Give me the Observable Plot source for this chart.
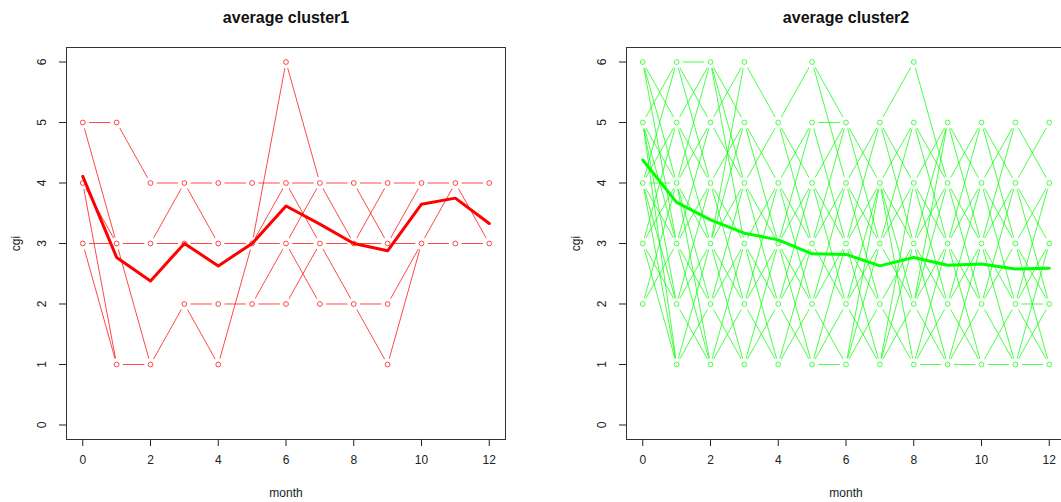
<!DOCTYPE html>
<html><head><meta charset="utf-8">
<script src="https://cdn.jsdelivr.net/npm/d3@7"></script>
<script src="https://cdn.jsdelivr.net/npm/@observablehq/plot@0.6"></script>
<style>
html,body{margin:0;padding:0;background:#fff;overflow:hidden;}
#wrap{position:relative;width:1061px;height:502px;overflow:hidden;background:#fff;}
.panel{position:absolute;top:0;width:530px;height:502px;}
.panel svg{max-width:none !important;width:530px;height:502px;display:block;}
</style></head><body>
<div id="wrap"><div class="panel" id="p1" style="left:0px"></div><div class="panel" id="p2" style="left:560px"></div></div>
<script>
const months = [0,1,2,3,4,5,6,7,8,9,10,11,12];
const xTicks = [0,2,4,6,8,10,12];
const yTicks = [0,1,2,3,4,5,6];
const titles = ["average cluster1", "average cluster2"];

// cluster 1: one row per subject, values for months 0..12
const cluster1Subjects = [
  [5,5,4,4,4,4,4,4,4,4,4,4,4],
  [5,3,1,2,2,2,3,4,3,4,4,4,3],
  [4,1,1,2,2,2,2,3,2,1,3,3,3],
  [4,3,3,4,3,3,4,3,3,3,4,4,3],
  [3,1,1,2,1,3,6,4,4,3,4,4,4],
  [3,3,3,4,3,3,4,4,3,3,4,4,3],
  [4,3,3,3,3,3,3,3,3,3,3,4,3],
  [4,3,3,3,3,3,3,2,2,2,3,3,3]
];
const cluster1Mean = [4.11,2.77,2.38,3.0,2.63,3.0,3.62,3.32,3.0,2.88,3.65,3.75,3.33];

// cluster 2
const cluster2Subjects = [
  [6,5,4,3,4,3,2,3,2,1,2,1,2],
  [6,4,3,4,3,2,3,2,3,2,1,2,3],
  [5,6,6,5,4,3,4,3,4,3,2,3,2],
  [5,3,4,2,3,4,2,1,2,3,2,1,1],
  [5,4,5,6,5,4,3,4,5,4,5,4,5],
  [5,2,3,2,1,2,1,2,1,2,3,2,1],
  [5,4,3,4,3,5,5,4,3,2,3,4,3],
  [4,6,5,4,5,6,5,4,3,4,5,3,4],
  [4,3,2,1,2,1,2,3,2,1,2,1,2],
  [4,5,4,3,2,3,2,1,2,1,1,2,1],
  [4,2,1,2,3,2,3,2,1,2,1,2,1],
  [4,3,4,5,4,3,2,3,4,3,4,3,2],
  [4,5,3,2,3,2,3,2,3,4,3,2,3],
  [3,4,2,3,2,1,2,1,2,3,2,1,2],
  [3,2,3,4,3,4,3,2,1,2,3,2,3],
  [3,1,2,1,2,1,1,2,3,2,1,2,1],
  [2,3,4,3,2,3,4,3,2,3,4,5,4],
  [5,3,2,3,4,2,3,2,3,2,3,2,2],
  [6,4,3,2,1,2,1,2,1,1,2,3,2],
  [5,4,3,6,5,6,4,5,6,4,3,2,3],
  [4,3,5,4,3,2,3,4,3,2,1,1,2],
  [5,1,2,1,2,1,2,1,2,1,2,3,2],
  [4,4,3,4,3,2,1,3,2,5,4,5,4],
  [3,5,6,4,5,4,5,3,4,5,4,3,4],
  [4,2,3,5,4,3,4,2,3,4,2,3,2],
  [5,3,5,4,2,4,2,3,5,3,2,4,3],
  [3,5,4,2,4,5,3,1,3,2,4,2,3],
  [4,6,4,5,3,1,3,5,4,2,3,1,2],
  [5,2,4,3,1,3,4,2,1,3,5,3,1],
  [2,4,1,3,4,2,1,4,2,4,2,4,3],
  [6,3,2,4,5,3,5,3,2,1,3,5,4],
  [4,1,3,1,3,4,2,4,1,3,1,2,4],
  [5,4,2,1,3,1,3,1,4,2,4,2,1],
  [3,2,1,3,1,3,2,3,5,3,2,1,3],
  [4,4,6,3,2,4,3,5,3,1,2,4,2],
  [5,3,1,2,4,2,4,2,3,5,3,1,2]
];
const cluster2Mean = [4.38,3.68,3.39,3.17,3.06,2.83,2.82,2.63,2.77,2.64,2.66,2.58,2.59];

const colors = ["#ff0000", "#00ff00"];

function panel(title, subjects, mean, color) {
  // unique points and unique segments (month to next month) of the subject paths
  const ptMap = new Map();
  const segMap = new Map();
  subjects.forEach(vals => vals.forEach((v, j) => {
    ptMap.set(months[j] + ":" + v, {month: months[j], value: v});
    if (j + 1 < vals.length) {
      const w = vals[j + 1];
      segMap.set(j + ":" + v + ":" + w, {m1: months[j], v1: v, m2: months[j + 1], v2: w});
    }
  }));
  const pts = Array.from(ptMap.values());
  const segs = Array.from(segMap.values());
  const meanPts = mean.map((v, j) => ({month: months[j], value: v}));
  return Plot.plot({
    width: 530, height: 502,
    marginLeft: 66, marginRight: 25, marginTop: 47, marginBottom: 63,
    style: {fontFamily: "'Liberation Sans', Arial, sans-serif", fontSize: "12px", color: "#222", background: "white"},
    x: {domain: [-0.48, 12.48]},
    y: {domain: [-0.24, 6.24]},
    marks: [
      Plot.link(segs, {x1: "m1", y1: "v1", x2: "m2", y2: "v2", stroke: color, strokeWidth: 0.9, strokeOpacity: 0.8}),
      Plot.dot(pts, {x: "month", y: "value", r: 6.3, fill: "white", stroke: "none"}),
      Plot.dot(pts, {x: "month", y: "value", r: 2.4, stroke: color, fill: "none", strokeWidth: 0.9, strokeOpacity: 0.8}),
      Plot.line(meanPts, {x: "month", y: "value", stroke: color, strokeWidth: 3}),
      Plot.frame({stroke: "#333"}),
      Plot.axisX({ticks: xTicks, tickSize: 7, tickPadding: 9, label: null}),
      Plot.axisY({ticks: yTicks, tickSize: 7, tickFormat: () => "", label: null}),
      Plot.text(yTicks, {y: d => d, text: d => String(d), frameAnchor: "left", dx: -24, rotate: -90, textAnchor: "middle", lineAnchor: "middle"}),
      Plot.text([title], {frameAnchor: "top", dy: -30, fontWeight: "bold", fontSize: 16, textAnchor: "middle", lineAnchor: "middle", fill: "#111"}),
      Plot.text(["month"], {frameAnchor: "bottom", dy: 54, textAnchor: "middle", lineAnchor: "middle"}),
      Plot.text(["cgi"], {frameAnchor: "left", dx: -50, rotate: -90, textAnchor: "middle", lineAnchor: "middle"})
    ]
  });
}

document.getElementById("p1").appendChild(panel(titles[0], cluster1Subjects, cluster1Mean, colors[0]));
document.getElementById("p2").appendChild(panel(titles[1], cluster2Subjects, cluster2Mean, colors[1]));
</script>
</body></html>
